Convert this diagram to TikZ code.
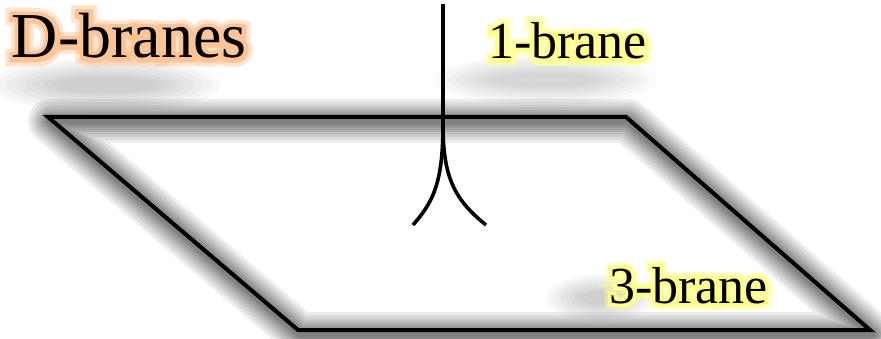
\documentclass[tikz,border=0pt]{standalone}
\usepackage{fontspec}
\setmainfont{Liberation Serif}
\newfontfamily\tmsfont{Liberation Serif}
\newfontfamily\glowA[FakeBold=14]{Liberation Serif}
\newfontfamily\glowB[FakeBold=26]{Liberation Serif}
\definecolor{glowO}{RGB}{255,196,150}
\definecolor{glowY}{RGB}{255,255,140}
\tikzset{
  lbl/.style={inner sep=0pt, outer sep=0pt, anchor=base west, text=black},
  brane/.style={line width=4pt, line join=miter, black},
  stringline/.style={line width=3.6pt, black},
  shadowline/.style={line width=#1, black, opacity=0.07, line join=round}
}
\begin{document}
\begin{tikzpicture}[x=1pt,y=-1pt]
\useasboundingbox (0,0) rectangle (881,339);
\fill[white] (0,0) rectangle (881,339);
% soft gray text shadows
\foreach \r in {1,...,8}{
  \fill[black, opacity=0.022] (105,85) ellipse ({125-9*\r} and {30-2.8*\r});
  \fill[black, opacity=0.02] (545,80) ellipse ({120-8*\r} and {28-2.6*\r});
  \fill[black, opacity=0.022] (600,298) ellipse ({60-5*\r} and {26-2.4*\r});
}
% parallelogram
\coordinate (A) at (48,117);
\coordinate (B) at (626,117);
\coordinate (C) at (870,330);
\coordinate (D) at (298,330);
\begin{scope}[transform canvas={shift={(2,4)}}]
\foreach \w in {44,38,32,27,22,18,14,10,7}{
  \draw[shadowline=\w pt] (48,117) -- (626,117) -- (870,330) -- (298,330) -- cycle;
}
\end{scope}
\draw[brane] (A) -- (B) -- (C) -- (D) -- cycle;
% 1-brane string
\coordinate (top) at (443,4);
\coordinate (split) at (443,125);
\coordinate (leftend) at (413,225);
\coordinate (rightend) at (486,225);
\draw[stringline] (top) -- (split);
\draw[stringline] (split) .. controls (443,185) and (432,203) .. (leftend);
\draw[stringline] (split) .. controls (443,178) and (455,200) .. (rightend);
% labels with glow
\node[lbl, text=glowO, opacity=0.45, font=\glowB\fontsize{64}{64}\selectfont] (gDb) at (12,58) {D-branes};
\node[lbl, text=glowO, font=\glowA\fontsize{64}{64}\selectfont] (gDa) at (12,58) {D-branes};
\node[lbl, text=glowY, opacity=0.45, font=\glowB\fontsize{52}{52}\selectfont] (g1b) at (488,59) {1-brane};
\node[lbl, text=glowY, font=\glowA\fontsize{52}{52}\selectfont] (g1a) at (488,59) {1-brane};
\node[lbl, text=glowY, opacity=0.45, font=\glowB\fontsize{52}{52}\selectfont] (g3b) at (609,303) {3-brane};
\node[lbl, text=glowY, font=\glowA\fontsize{52}{52}\selectfont] (g3a) at (609,303) {3-brane};
\node[lbl, font=\tmsfont\fontsize{64}{64}\selectfont] (dbranes) at (12,58) {D-branes};
\node[lbl, font=\tmsfont\fontsize{52}{52}\selectfont] (onebrane) at (488,59) {1-brane};
\node[lbl, font=\tmsfont\fontsize{52}{52}\selectfont] (threebrane) at (609,303) {3-brane};
\end{tikzpicture}
\end{document}
